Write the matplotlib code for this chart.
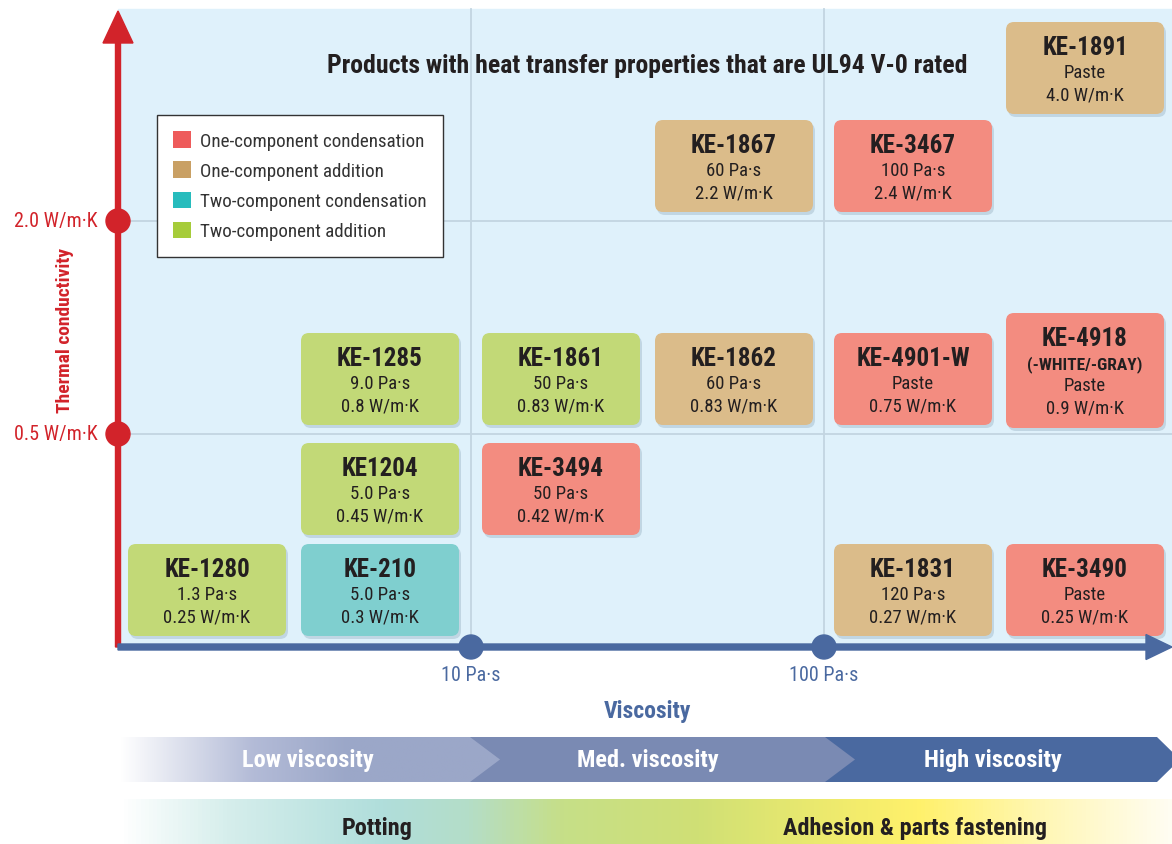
import matplotlib.pyplot as plt
import numpy as np
from matplotlib.patches import FancyBboxPatch, Rectangle, Polygon, Circle, FancyArrow, Patch
from matplotlib.colors import LinearSegmentedColormap

plt.rcParams['font.family'] = ['Roboto Condensed', 'DejaVu Sans']

# product data
names = ['KE-1891', 'KE-1867', 'KE-3467', 'KE-1285', 'KE-1861', 'KE-1862', 'KE-4901-W',
         'KE-4918', 'KE1204', 'KE-3494', 'KE-1280', 'KE-210', 'KE-1831', 'KE-3490']
subnames = ['', '', '', '', '', '', '', '(-WHITE/-GRAY)', '', '', '', '', '', '']
viscosity = ['Paste', '60 Pa·s', '100 Pa·s', '9.0 Pa·s', '50 Pa·s', '60 Pa·s', 'Paste',
             'Paste', '5.0 Pa·s', '50 Pa·s', '1.3 Pa·s', '5.0 Pa·s', '120 Pa·s', 'Paste']
conductivity = ['4.0 W/m·K', '2.2 W/m·K', '2.4 W/m·K', '0.8 W/m·K', '0.83 W/m·K', '0.83 W/m·K',
                '0.75 W/m·K', '0.9 W/m·K', '0.45 W/m·K', '0.42 W/m·K', '0.25 W/m·K',
                '0.3 W/m·K', '0.27 W/m·K', '0.25 W/m·K']
types = ['1A', '1A', '1C', '2A', '2A', '1A', '1C', '1C', '2A', '1C', '2A', '2C', '1A', '1C']
column = [5, 3, 4, 1, 2, 3, 4, 5, 1, 2, 0, 1, 4, 5]
tier = [0, 1, 1, 2, 2, 2, 2, 2, 3, 3, 4, 4, 4, 4]

type_keys = ['1C', '1A', '2C', '2A']
type_labels = ['One-component condensation', 'One-component addition',
               'Two-component condensation', 'Two-component addition']

x_tick_labels = ['10 Pa·s', '100 Pa·s']
y_tick_labels = ['2.0 W/m·K', '0.5 W/m·K']
bands = ['Low viscosity', 'Med. viscosity', 'High viscosity']
uses = ['Potting', 'Adhesion & parts fastening']

# styles / layout
box_col = {'1C': '#f38c80', '1A': '#dbbc8a', '2C': '#7fcfcf', '2A': '#c2d977'}
leg_col = {'1C': '#ee5b5b', '1A': '#c9a064', '2C': '#27bcbd', '2A': '#a6cc3a'}
red = '#d2232a'
blue = '#4a69a0'
dark = '#231f20'
col_left = [128, 301, 482, 655, 834, 1006]
tier_top = [23, 121, 334, 444, 545]
box_w, box_h = 158, 92

fig = plt.figure(figsize=(11.72, 8.45), dpi=100)
ax = fig.add_axes([0, 0, 1, 1])
ax.set_xlim(0, 1172)
ax.set_ylim(845, 0)
ax.axis('off')

# plot background and grid
ax.add_patch(Rectangle((118, 10), 1054, 638, color='#dff1fb', zorder=0))
x_ticks = [471, 824]
y_ticks = [222, 435]
for xt in x_ticks:
    ax.plot([xt, xt], [10, 648], color='#c3d5e1', lw=1.3, zorder=1)
for yt in y_ticks:
    ax.plot([118, 1172], [yt, yt], color='#c3d5e1', lw=1.3, zorder=1)

# product boxes
for i, nm in enumerate(names):
    x0 = col_left[column[i]]
    top = tier_top[tier[i]]
    h = box_h
    if subnames[i]:
        top, h = 314, 115
    ax.add_patch(FancyBboxPatch((x0 + 2, top + 3), box_w, h, boxstyle='round,pad=0,rounding_size=8',
                                fc='#8aa6b8', ec='none', alpha=0.35, zorder=2))
    ax.add_patch(FancyBboxPatch((x0, top), box_w, h, boxstyle='round,pad=0,rounding_size=8',
                                fc=box_col[types[i]], ec='none', zorder=3))
    cx = x0 + box_w / 2
    ax.text(cx, top + 25, nm, ha='center', va='center', fontsize=18, fontweight='bold',
            color=dark, zorder=4)
    y = top + 50
    if subnames[i]:
        ax.text(cx, top + 51, subnames[i], ha='center', va='center', fontsize=12.5,
                fontweight='bold', color=dark, zorder=4)
        y = top + 72
    ax.text(cx, y, viscosity[i], ha='center', va='center', fontsize=13.5, color=dark, zorder=4)
    ax.text(cx, y + 23, conductivity[i], ha='center', va='center', fontsize=13.5,
            color=dark, zorder=4)

# title
ax.text(647, 66, 'Products with heat transfer properties that are UL94 V-0 rated', ha='center',
        va='center', fontsize=18.5, fontweight='bold', color=dark, zorder=5)

# legend
handles = [Patch(fc=leg_col[k], ec='none', label=l) for k, l in zip(type_keys, type_labels)]
leg = ax.legend(handles=handles, loc='upper left', bbox_to_anchor=(157 / 1172, 1 - 116 / 845),
                frameon=True, fancybox=False, fontsize=13.7, handlelength=0.95, handleheight=0.95,
                handletextpad=0.45, labelspacing=0.6, borderpad=0.85, edgecolor='#333333',
                framealpha=1, borderaxespad=0)
leg.get_frame().set_linewidth(1.0)
for t in leg.get_texts():
    t.set_color('#333333')
leg.set_zorder(6)

# axes arrows
ax.add_patch(FancyArrow(118, 648, 0, -636, width=5, head_width=30, head_length=32,
                        length_includes_head=True, color=red, zorder=7))
ax.add_patch(FancyArrow(118, 648, 1054, 0, width=6, head_width=25, head_length=26,
                        length_includes_head=True, color=blue, zorder=7))
for yt, lab in zip(y_ticks, y_tick_labels):
    ax.add_patch(Circle((118, yt), 12, color=red, zorder=8))
    ax.text(98, yt, lab, ha='right', va='center', fontsize=14.5, color=red)
for xt, lab in zip(x_ticks, x_tick_labels):
    ax.add_patch(Circle((xt, 648), 12, color=blue, zorder=8))
    ax.text(xt, 676, lab, ha='center', va='center', fontsize=14.5, color=blue)
ax.text(65, 330, 'Thermal conductivity', rotation=90, ha='center', va='center', fontsize=14,
        fontweight='bold', color=red)
ax.text(647, 712, 'Viscosity', ha='center', va='center', fontsize=17, fontweight='bold', color=blue)

# viscosity chevrons
y0, y1, ym = 738, 783, 760.5
high = Polygon([(825, y0), (1157, y0), (1180, ym), (1157, y1), (825, y1)], closed=True,
               fc=blue, ec='none', zorder=2)
med = Polygon([(470, y0), (825, y0), (855, ym), (825, y1), (470, y1)], closed=True,
              fc='#7a8ab3', ec='none', zorder=3)
low = Polygon([(120, y0), (470, y0), (500, ym), (470, y1), (120, y1)], closed=True,
              fc='none', ec='none', zorder=4)
for p in (high, med, low):
    ax.add_patch(p)
low_cmap = LinearSegmentedColormap.from_list('low', [(0, '#ffffff'), (0.35, '#b3bbd7'),
                                                     (0.6, '#9ba7c8'), (1, '#9ba7c8')])
im = ax.imshow(np.linspace(0, 1, 256)[None, :], cmap=low_cmap, extent=(120, 500, y1, y0),
               aspect='auto', zorder=4)
im.set_clip_path(low)
for xc, lab in zip([308, 648, 993], bands):
    ax.text(xc, ym, lab, ha='center', va='center', fontsize=17.5, fontweight='bold',
            color='white', zorder=5)

# application band
use_cmap = LinearSegmentedColormap.from_list('use', [
    (0, '#ffffff'), (0.1, '#d6eeec'), (0.25, '#b0dedb'), (0.33, '#b4ddc8'), (0.42, '#c6df88'),
    (0.55, '#d0e075'), (0.7, '#f3ec6c'), (0.76, '#fff16b'), (0.88, '#fff7b5'), (1, '#fffdf2')])
ax.imshow(np.linspace(0, 1, 256)[None, :], cmap=use_cmap, extent=(120, 1172, 845, 800),
          aspect='auto', zorder=2)
for xc, lab in zip([377, 915], uses):
    ax.text(xc, 829, lab, ha='center', va='center', fontsize=17.5, fontweight='bold',
            color=dark, zorder=5)

ax.set_xlim(0, 1172)
ax.set_ylim(845, 0)
fig.savefig('out.png', dpi=100)
